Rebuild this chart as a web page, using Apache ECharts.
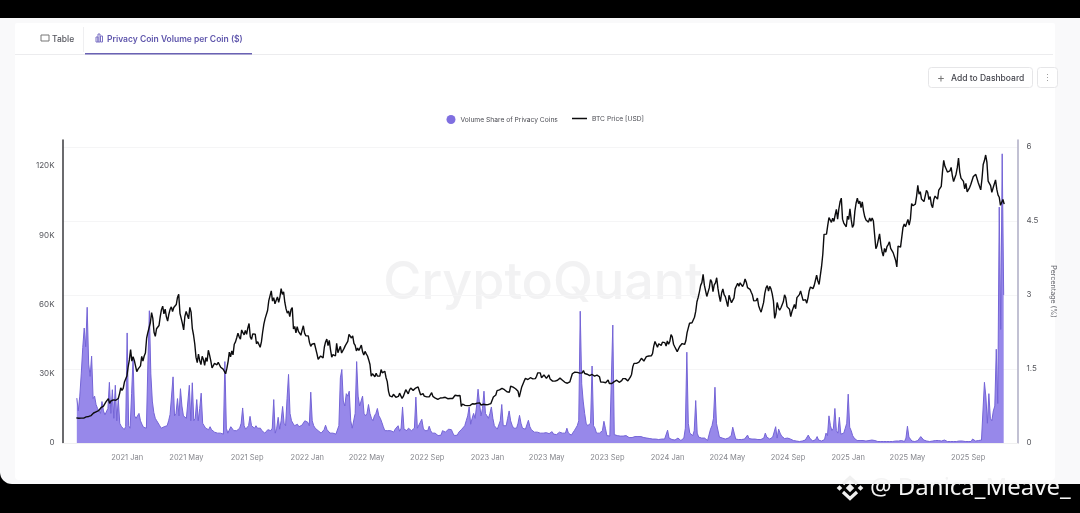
<!DOCTYPE html>
<html><head><meta charset="utf-8">
<style>html,body{margin:0;padding:0;background:#000}#c{width:1080px;height:513px}</style>
<script src="https://cdn.jsdelivr.net/npm/echarts@6/dist/echarts.min.js"></script>
</head><body><div id="c"></div>
<script>
const shareStart = '2020-09-21';
const shareStepDays = 3;
const shareValues = [
.91,.65,.95,1.4,1.93,2.33,1.95,2.75,1.6,1.35,1.76,.9,.95,.78,.7,.65,.6,.84,.65,.57,
.55,.7,1.23,.6,1.08,.5,1.17,.45,.9,.4,.34,.3,.27,.33,2.23,.35,.3,1.0,1.72,.55,
.5,.5,.6,.45,.38,.32,.28,.3,1.6,2.68,1.4,.85,.62,.5,.45,.42,.35,.3,.27,.33,
.3,.35,.45,.58,.6,1.34,.55,.6,.9,.55,1.1,.75,.55,.58,.5,.5,1.17,.45,1.22,.45,
.5,.88,.45,.7,1.01,.4,.35,.3,.28,.27,.33,.27,.25,.22,.22,.2,.22,.2,.2,.18,
1.65,.3,.2,.22,.33,.3,.25,.28,.25,.22,.3,.4,.71,.35,.28,.3,.35,.54,.35,.33,
.3,.35,.3,.28,.3,.25,.22,.2,.2,.27,.3,.25,.3,.88,.2,.3,.52,.28,.45,.74,
.4,.35,.9,1.39,.6,.45,.4,.35,.38,.38,.33,.35,.36,.4,.45,.48,.42,.35,1.03,.45,
.35,.3,.27,.25,.22,.2,.23,.27,.36,.27,.23,.2,.22,.2,.18,.18,.2,.35,1.32,1.49,
.85,.75,1.0,.95,1.05,.45,.3,.3,.6,1.65,.95,.75,.85,.95,.6,.55,.6,.78,.6,.5,
.45,.55,.6,.7,.55,.5,.42,.33,.25,.22,.25,.28,.25,.22,.22,.28,.3,.35,.24,.3,
.73,.28,.25,.25,.3,.34,.25,.28,.3,.93,.3,.28,.42,.48,.3,.25,.22,.25,.34,.25,
.2,.19,.2,.17,.15,.14,.16,.25,.28,.22,.26,.28,.27,.27,.2,.15,.15,.16,.22,.25,
.28,.3,.35,.45,.55,.73,.38,.5,.6,.5,.75,1.09,.8,.55,.7,1.05,.6,.55,.5,.6,
.73,.5,.35,.35,.28,.25,.45,.78,.35,.32,.35,.5,.65,.45,.36,.3,.3,.3,.4,.56,
.4,.3,.27,.28,.3,.46,.33,.27,.24,.22,.22,.22,.22,.2,.22,.2,.2,.21,.2,.19,
.2,.23,.18,.2,.17,.2,.22,.18,.2,.17,.2,.3,.2,.17,.16,.15,.25,.3,.35,.45,
2.67,1.2,.85,.6,.4,.35,.35,.4,1.56,.35,.3,.2,.2,.2,.17,.25,.44,.3,.15,.15,
.14,.15,2.39,.17,.15,.15,.13,.14,.13,.14,.13,.15,.13,.11,.12,.11,.12,.13,.14,.13,
.12,.13,.11,.11,.1,.1,.09,.09,.1,.08,.09,.08,.07,.07,.07,.08,.07,.08,.1,.26,
.1,.07,.07,.06,.06,.07,.1,.06,.05,.07,.1,.3,1.84,.4,.2,.18,.15,.25,.86,.2,
.12,.14,.1,.08,.1,.06,.05,.05,.28,.35,.5,1.13,.4,.36,.12,.1,.1,.08,.08,.1,
.1,.08,.15,.32,.2,.08,.07,.07,.08,.07,.08,.08,.1,.16,.09,.07,.08,.1,.08,.07,
.07,.06,.07,.08,.1,.2,.12,.09,.08,.08,.12,.15,.33,.1,.28,.2,.14,.1,.09,.08,
.1,.13,.08,.06,.05,.04,.04,.04,.03,.03,.04,.05,.06,.08,.16,.1,.06,.04,.05,.07,
.13,.06,.05,.04,.04,.07,.2,.15,.55,.35,.25,.3,.7,.25,.2,.52,.18,.15,.2,.3,
.4,.99,.32,.25,.15,.1,.06,.05,.05,.05,.05,.05,.04,.04,.04,.05,.05,.06,.08,.05,
.04,.03,.03,.03,.03,.03,.03,.03,.03,.03,.03,.03,.03,.04,.05,.04,.04,.05,.04,.03,
.1,.34,.12,.08,.04,.03,.03,.03,.05,.08,.13,.1,.06,.04,.04,.03,.03,.03,.04,.04,
.05,.07,.05,.05,.04,.05,.06,.04,.03,.03,.03,.03,.03,.03,.03,.04,.04,.05,.04,.04,
.03,.03,.03,.03,.03,.08,.04,.04,.04,.05,.04,.06,.1,1.23,.93,.4,1.0,.5,.45,.65,
.75,1.9,.8,4.78,2.3,5.86,3.0];
const btcStart = '2020-09-20';
const btcStepDays = 2.5;
const btcValues = [
10900,10500,10700,10750,10800,10900,10800,10650,11300,11350,11500,11400,11900,12300,13000,13100,13500,13800,14000,14800,
15300,15700,16000,16700,17800,18400,19200,17200,18200,19000,18700,19200,18500,18000,19300,21300,23900,22800,23700,26400,
27100,29000,33000,36000,40500,35500,37400,35800,36600,30900,32000,32300,33400,37500,35500,37700,39000,45500,47900,48700,
52100,56500,54000,48000,46200,49500,48800,50900,54800,57800,59300,56000,58000,54700,52800,55800,57900,59000,57000,58700,
58100,60000,63100,64400,56200,54000,51700,49000,54900,57000,57500,53800,58800,56700,49700,46800,42900,37200,34800,38500,
35700,34000,37600,36200,33600,37000,35300,40200,38100,35600,32500,31700,34500,35200,33900,35000,34200,32800,33000,32000,
31500,30000,32300,35300,39400,37300,39900,38200,42800,43800,45600,47600,46000,45000,49000,47800,46900,48800,47100,49900,
51800,46000,44900,47300,48100,47200,43000,43900,42700,41500,43800,48000,51500,53900,54700,57400,61700,62200,65900,61500,
63000,60300,61900,63300,61000,63200,66900,64400,65500,60900,58100,56300,57200,54800,57800,58700,49400,50500,47700,50400,
48400,47600,46700,48900,50800,47600,46500,47300,46400,43500,41900,42800,42600,43100,42400,38700,36300,36700,37700,38200,
36900,41500,43800,45000,42200,44500,40500,37200,38300,38500,37700,43200,39100,39400,41900,39000,39700,41000,42200,42900,
44000,47100,47400,45500,46400,43200,42300,39900,41100,40100,40800,42400,39500,38100,39700,38600,37700,36000,34000,29000,
30000,30300,28700,30200,29000,29800,29000,31800,30400,29900,31100,28400,26600,22500,20400,20500,20000,21100,20700,19800,
19300,20200,21600,20800,19300,20200,20800,23100,22600,21300,22900,23800,23300,22800,23000,23800,23900,24300,23900,20900,
21500,21400,20300,20000,20000,19900,20000,19300,21800,20200,19700,19400,18900,18900,18800,19500,19400,19600,20200,19800,
19100,19200,19100,19300,19000,19300,20100,20700,20600,20500,21300,20600,15900,16900,16600,16300,16700,16200,16600,16200,
16400,17000,17100,16900,17100,17300,17800,17400,16400,16700,16800,16600,16600,16600,16700,16900,17100,17900,19900,20700,
20800,22700,22900,23000,23000,23700,23400,23100,23300,22200,21800,22000,24600,24300,24200,23900,23500,23500,22400,19900,
20400,24300,24700,26900,28000,27900,27500,27300,28300,28400,27800,27700,27900,28900,30400,30300,30400,28300,27600,29500,
29300,28000,28700,29500,27700,27600,26800,27000,26800,27100,27200,26700,28100,27700,27200,27000,26300,25900,25900,25100,
26500,28300,30000,30500,30700,30100,30600,30500,30300,30800,30400,31400,30100,29900,29800,29900,29200,29300,29700,29300,
29000,29200,29400,29200,28700,26400,26100,26400,26000,26100,26000,27300,25800,25900,25800,26200,26600,27100,
27200,26500,26300,26200,27000,27900,27400,27900,27400,26900,27200,28500,29700,33000,34500,34100,34500,34700,35000,35400,
36700,37100,35500,36500,37400,37300,37700,37200,37800,38700,42000,44000,43800,41500,43000,43700,42300,43700,43000,43500,
42000,44200,42800,44000,47000,46000,42800,41700,41300,39600,39900,41800,42000,43100,43200,42700,44300,47800,49900,51900,
51600,52100,51300,54500,57000,61200,63100,65500,68300,69500,73100,68400,67600,63500,64000,67200,70800,69700,65600,68500,
69400,71600,67100,63800,61300,65000,66800,64300,63400,63100,59100,64000,62300,60800,61500,62900,66900,67000,69200,67900,
69400,68800,67800,69000,71100,69700,67300,66900,66600,65300,64100,61600,60800,61700,62800,59500,58000,56700,57300,60800,
64800,67200,68200,65800,67900,66800,64600,61500,54000,56000,60900,58700,57600,58500,59000,61200,64200,62900,59100,58900,
58000,54800,57000,57300,60000,58200,63000,63300,64300,65900,65600,61800,62000,62100,60600,62900,66000,67600,68400,66900,
68200,68000,72700,70200,68700,69400,76500,81800,90400,91000,90500,94300,97700,98000,95600,97400,96000,98800,101200,97000,
101400,104500,106100,97000,95300,94700,93700,98300,96900,101500,96900,93400,94500,100500,104000,106100,103700,104800,102000,104500,
100600,98000,96600,97300,95700,97500,96100,97500,96200,95600,84200,85500,86100,90600,86100,83000,81000,84300,82700,85100,
86000,87200,84300,83500,82500,83200,79200,76300,85300,84500,84900,85000,93400,94900,93700,94200,96900,94400,97000,103800,
102800,103600,103500,106900,111700,107800,108900,105700,105600,104600,104300,109500,108600,105500,106800,103300,102000,105500,107000,107400,
105700,109600,109200,111200,117500,122500,119900,118700,117400,117000,117900,119400,115800,113300,114100,116500,119300,123500,117400,114800,
114300,113400,110100,112500,108800,108300,110700,112100,111500,115500,115300,116400,115700,112800,113300,109700,114400,120700,122400,124800,
121700,113500,113000,111500,108600,110500,111000,114000,110000,107500,106500,103000,102300,105500,103500];
const xTickLabels = ['2021 Jan','2021 May','2021 Sep','2022 Jan','2022 May','2022 Sep','2023 Jan','2023 May','2023 Sep','2024 Jan','2024 May','2024 Sep','2025 Jan','2025 May','2025 Sep'];
const xTickDates = ['2021-01-01','2021-05-01','2021-09-01','2022-01-01','2022-05-01','2022-09-01','2023-01-01','2023-05-01','2023-09-01','2024-01-01','2024-05-01','2024-09-01','2025-01-01','2025-05-01','2025-09-01'];
const shareName = 'Volume Share of Privacy Coins';
const btcName = 'BTC Price [USD]';

const DAY = 86400000;
const series = (start, step, vals) => vals.map((v, i) => [Date.parse(start + 'T00:00:00Z') + i * step * DAY, v]);
const tickTs = xTickDates.map(d => Date.parse(d + 'T00:00:00Z'));
const tickLabel = {}; tickTs.forEach((t, i) => tickLabel[t] = xTickLabels[i]);
const F = 'Inter, "Noto Sans", sans-serif';

const t = (x, y, text, o) => ({type:'text', x, y, z:o.z === undefined ? 5 : o.z, silent:true,
  style:{text, fill:o.fill, font:(o.weight||400)+' '+o.size+'px '+(o.family||F), textAlign:o.align||'left', textVerticalAlign:'middle'}});
const r = (x, y, w, h, fill, o) => ({type:'rect', z:(o&&o.z)!==undefined?o.z:5, silent:true,
  shape:{x, y, width:w, height:h, r:(o&&o.r)||0}, rotation:(o&&o.rotation)||0, originX:x+w/2, originY:y+h/2,
  style:{fill, stroke:(o&&o.stroke)||null, lineWidth:1}});
const chev = pts => ({type:'polyline', z:20, silent:true, shape:{points:pts}, style:{stroke:'#f0f0f0', lineWidth:3.2, fill:null}});

const logo = [
  r(847,485,6,6,'#f0f0f0',{rotation:Math.PI/4, z:20}),
  r(837.5,486,4,4,'#f0f0f0',{rotation:Math.PI/4, z:20}),
  r(858.5,486,4,4,'#f0f0f0',{rotation:Math.PI/4, z:20}),
  chev([[843,484],[850,477.5],[857,484]]),
  chev([[843,492],[850,498.5],[857,492]])
];

const chrome = [
  r(0,0,1080,513,'#000000',{z:-30}),
  r(0,18,1080,466,'#f9f9fa',{z:-29,r:[0,0,0,12]}),
  r(15,23,1040,457,'#ffffff',{z:-28,r:[2,2,4,4]}),
  r(15,54,1038,1,'#ececee',{z:-27}),
  r(83,27,1,25,'#efeff1',{z:-27}),
  r(85,53,167,1.6,'#6a62b4',{z:-26}),
  r(41,35,8,6,'none',{stroke:'#777',z:5}),
  t(52,39,'Table',{fill:'#55565e',size:8.5,weight:500}),
  r(96,37,2,5,'none',{stroke:'#7a70c4'}), r(98,34,2,8,'none',{stroke:'#7a70c4'}), r(100.5,36,2,6,'none',{stroke:'#7a70c4'}),
  t(107,39,'Privacy Coin Volume per Coin ($)',{fill:'#5f56ac',size:8.5,weight:600}),
  r(928.5,67.5,104,20,'#ffffff',{r:3,stroke:'#e6e6e8'}),
  t(941,78,'+',{fill:'#777',size:12,align:'center'}),
  t(951,78,'Add to Dashboard',{fill:'#44454d',size:8.5,weight:500}),
  r(1037.5,67.5,20,20,'#ffffff',{r:3,stroke:'#e6e6e8'}),
  t(1047.5,78,'⋮',{fill:'#999',size:9,align:'center'}),
  t(543,283,'CryptoQuant',{fill:'#f2f2f3',size:52,weight:500,align:'center',z:-5}),
  t(870,488,'@ Danica_Meave_',{fill:'#f4f4f4',size:24,family:'"Noto Sans", sans-serif',z:20})
].concat(logo);

const option = {
  animation:false, backgroundColor:'transparent',
  textStyle:{fontFamily:F},
  graphic:{elements:chrome},
  legend:[
    {show:true, left:446.5, top:115, padding:0, itemWidth:9, itemHeight:9, icon:'circle', data:[shareName],
     textStyle:{fontSize:6.7,color:'#4a4b52',fontFamily:F}, selectedMode:false},
    {show:true, left:572, top:115, padding:0, itemWidth:15, itemHeight:1.5, icon:'rect', data:[btcName],
     textStyle:{fontSize:6.7,color:'#4a4b52',fontFamily:F}, selectedMode:false}
  ],
  grid:{left:62.5,right:62.5,top:140,bottom:70},
  xAxis:{type:'value', min:Date.parse('2020-08-23T00:00:00Z'), max:Date.parse('2025-12-10T00:00:00Z'),
    axisLine:{show:true,lineStyle:{color:'#f0f0f0',width:1}}, axisTick:{show:false}, splitLine:{show:false},
    axisLabel:{customValues:tickTs, margin:11, fontSize:7.5, color:'#85868c', fontFamily:F, hideOverlap:false,
      formatter:v => tickLabel[v] || ''}},
  yAxis:[
    {type:'value', min:0, max:131300, interval:30000, position:'left',
      axisLine:{show:true,onZero:false,lineStyle:{color:'#3a3a3e',width:1.5}}, axisTick:{show:false}, splitLine:{show:false},
      axisLabel:{margin:8, fontSize:8, color:'#55565c', fontFamily:F, showMaxLabel:false, padding:[4,0,0,0], verticalAlignMinLabel:'middle',
        formatter:v => v === 0 ? '0' : (v/1000)+'K'}},
    {type:'value', min:0, max:6.14, interval:1.5, position:'right',
      name:'Percentage (%)', nameLocation:'middle', nameGap:21, nameRotate:-90,
      nameTextStyle:{fontSize:7.1,color:'#6a6b72',fontFamily:F},
      axisLine:{show:true,onZero:false,lineStyle:{color:'#aeadc4',width:1.5}}, axisTick:{show:false},
      splitLine:{show:true,showMaxLine:false,showMinLine:false,lineStyle:{color:'#f5f5f6',width:1}},
      axisLabel:{margin:9, fontSize:8, color:'#55565c', fontFamily:F, showMaxLabel:false, padding:[4,0,0,0], verticalAlignMinLabel:'middle'}}
  ],
  series:[
    {name:shareName, type:'line', yAxisIndex:1, symbol:'none', z:2,
     data:series(shareStart, shareStepDays, shareValues),
     lineStyle:{color:'#7464d6',width:1}, itemStyle:{color:'#7f6fe0'},
     areaStyle:{color:'#9788ea',opacity:1}},
    {name:btcName, type:'line', yAxisIndex:0, symbol:'none', z:3,
     data:series(btcStart, btcStepDays, btcValues),
     lineStyle:{color:'#0c0c0e',width:1.4}, itemStyle:{color:'#0c0c0e'}}
  ]
};
echarts.init(document.getElementById('c'),null,{renderer:'canvas'}).setOption(option);
</script></body></html>
